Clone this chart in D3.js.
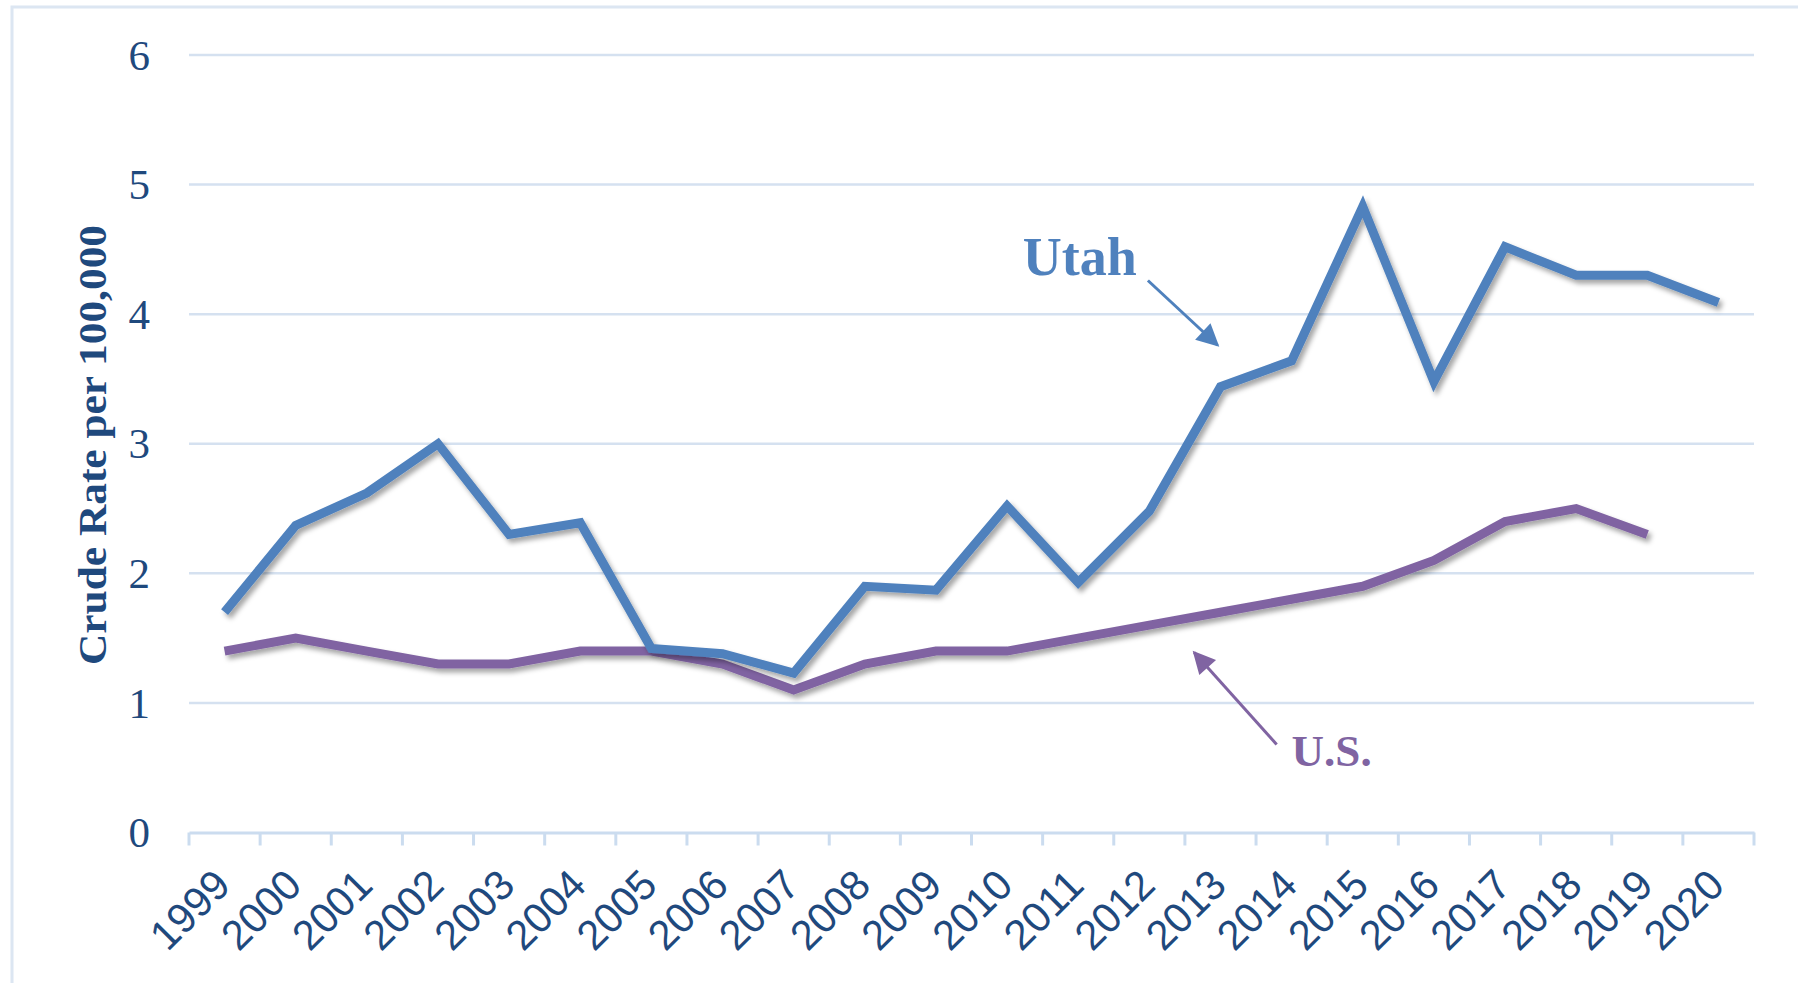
<!DOCTYPE html>
<html>
<head>
<meta charset="utf-8">
<script src="https://cdn.jsdelivr.net/npm/d3@7"></script>
<style>
  html, body { margin: 0; padding: 0; background: #fff; }
  svg { display: block; }
</style>
</head>
<body>
<div id="main"></div>
<script>
// chart data
const years = ["1999","2000","2001","2002","2003","2004","2005","2006","2007","2008","2009",
  "2010","2011","2012","2013","2014","2015","2016","2017","2018","2019","2020"];
const utahRate = [1.7,2.37,2.62,3.0,2.3,2.39,1.42,1.38,1.23,1.9,1.87,
  2.52,1.93,2.48,3.44,3.64,4.83,3.48,4.52,4.3,4.3,4.09];
const usRate = [1.4,1.5,1.4,1.3,1.3,1.4,1.4,1.3,1.1,1.3,1.4,
  1.4,1.5,1.6,1.7,1.8,1.9,2.1,2.4,2.5,2.3,null];
const yTicks = [0,1,2,3,4,5,6];
const yTitle = "Crude Rate per 100,000";

// annotations, in (year, value) units
const notes = [
  { text: "Utah", color: "#4F81BD", size: 54, at: [2010.22, 4.30], from: [2011.98, 4.26], to: [2012.96, 3.76] },
  { text: "U.S.", color: "#8064A2", size: 45, at: [2014.0, 0.51], from: [2013.79, 0.68], to: [2012.63, 1.39] }
];

const width = 1798, height = 983;
const margin = { top: 55, right: 44, bottom: 150.5, left: 189 };

const svg = d3.select("#main").append("svg")
  .attr("width", width)
  .attr("height", height);

const defs = svg.append("defs");
const shadow = defs.append("filter").attr("id", "shadow")
  .attr("x", "-5%").attr("y", "-20%").attr("width", "110%").attr("height", "140%");
shadow.append("feDropShadow")
  .attr("dx", 3).attr("dy", 4).attr("stdDeviation", 2.5)
  .attr("flood-color", "#000").attr("flood-opacity", 0.35);

["#4F81BD", "#8064A2"].forEach((c, i) => {
  defs.append("marker")
    .attr("id", "arrow" + i)
    .attr("viewBox", "0 0 10 10")
    .attr("refX", 9).attr("refY", 5)
    .attr("markerWidth", 9).attr("markerHeight", 7.5)
    .attr("markerUnits", "strokeWidth")
    .attr("orient", "auto")
    .append("path")
    .attr("d", "M0,0 L10,5 L0,10 Z")
    .attr("fill", c);
});

// outer frame
svg.append("rect")
  .attr("x", 12).attr("y", 7)
  .attr("width", width + 20).attr("height", height + 20)
  .attr("fill", "none")
  .attr("stroke", "#dce6f2")
  .attr("stroke-width", 3);

const x = d3.scaleBand()
  .domain(years)
  .range([margin.left, width - margin.right]);

// same positions as x, but takes fractional years (for annotations)
const xYear = d3.scaleLinear()
  .domain([1999, 2020])
  .range([x("1999") + x.bandwidth() / 2, x("2020") + x.bandwidth() / 2]);

const y = d3.scaleLinear()
  .domain([0, 6])
  .range([height - margin.bottom, margin.top]);

// gridlines
svg.append("g")
  .selectAll("line")
  .data(yTicks.filter(d => d > 0))
  .join("line")
  .attr("x1", margin.left)
  .attr("x2", width - margin.right)
  .attr("y1", d => y(d))
  .attr("y2", d => y(d))
  .attr("stroke", "#d5e1f0")
  .attr("stroke-width", 2.5);

// x axis
const xAxis = svg.append("g")
  .attr("transform", `translate(0,${y(0)})`)
  .call(d3.axisBottom(x).tickSize(0).tickFormat(""));
xAxis.select(".domain").attr("stroke", "#cbdcef").attr("stroke-width", 3);

const tickPos = years.map(d => x(d)).concat([x(years[years.length - 1]) + x.bandwidth()]);
xAxis.append("g")
  .selectAll("line")
  .data(tickPos)
  .join("line")
  .attr("x1", d => d).attr("x2", d => d)
  .attr("y1", 0).attr("y2", 13)
  .attr("stroke", "#cbdcef")
  .attr("stroke-width", 3);

xAxis.append("g")
  .selectAll("text")
  .data(years)
  .join("text")
  .attr("transform", d => `translate(${x(d) + x.bandwidth() / 2 + 8},${55}) rotate(-45)`)
  .attr("text-anchor", "end")
  .attr("fill", "#1F497D")
  .attr("textLength", 92)
  .attr("lengthAdjust", "spacingAndGlyphs")
  .style("font-family", "'Liberation Sans', Arial, sans-serif")
  .style("font-size", "42px")
  .text(d => d);

// y tick labels
svg.append("g")
  .selectAll("text")
  .data(yTicks)
  .join("text")
  .attr("x", 150)
  .attr("y", d => y(d))
  .attr("dy", "0.34em")
  .attr("text-anchor", "end")
  .attr("fill", "#1F497D")
  .style("font-family", "'Liberation Serif', 'DejaVu Serif', serif")
  .style("font-size", "43px")
  .text(d => d);

// y title
svg.append("text")
  .attr("transform", `translate(92,${(225 + 665) / 2}) rotate(-90)`)
  .attr("text-anchor", "middle")
  .attr("dy", "0.35em")
  .attr("textLength", 440)
  .attr("lengthAdjust", "spacingAndGlyphs")
  .attr("fill", "#1F497D")
  .style("font-family", "'Liberation Serif', 'DejaVu Serif', serif")
  .style("font-weight", "bold")
  .style("font-size", "39px")
  .text(yTitle);

// lines
const line = d3.line()
  .defined(d => d != null)
  .x((d, i) => x(years[i]) + x.bandwidth() / 2)
  .y(d => y(d));

svg.append("path")
  .datum(usRate)
  .attr("d", line)
  .attr("fill", "none")
  .attr("stroke", "#8064A2")
  .attr("stroke-width", 9)
  .attr("stroke-linejoin", "miter")
  .attr("filter", "url(#shadow)");

svg.append("path")
  .datum(utahRate)
  .attr("d", line)
  .attr("fill", "none")
  .attr("stroke", "#4F81BD")
  .attr("stroke-width", 9)
  .attr("stroke-linejoin", "miter")
  .attr("filter", "url(#shadow)");

// annotations
notes.forEach((n, i) => {
  svg.append("text")
    .attr("x", xYear(n.at[0]))
    .attr("y", y(n.at[1]))
    .attr("fill", n.color)
    .style("font-family", "'Liberation Serif', 'DejaVu Serif', serif")
    .style("font-weight", "bold")
    .style("font-size", n.size + "px")
    .text(n.text);

  svg.append("line")
    .attr("x1", xYear(n.from[0]))
    .attr("y1", y(n.from[1]))
    .attr("x2", xYear(n.to[0]))
    .attr("y2", y(n.to[1]))
    .attr("stroke", n.color)
    .attr("stroke-width", 3)
    .attr("marker-end", `url(#arrow${i})`);
});
</script>
</body>
</html>
